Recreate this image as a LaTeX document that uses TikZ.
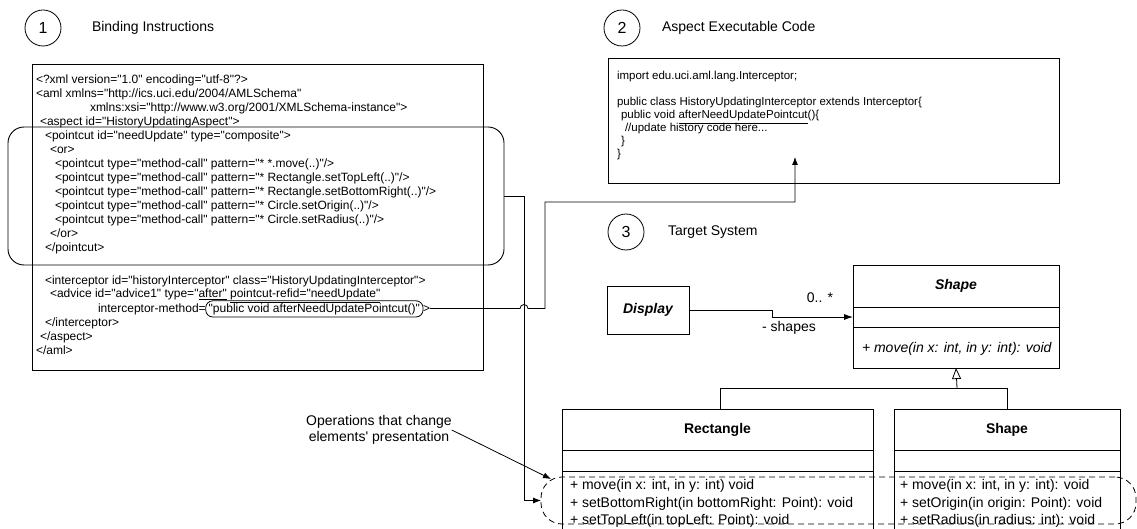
\documentclass[tikz,border=0pt]{standalone}
\usepackage{fontspec}
\setmainfont{Liberation Sans}[Ligatures=TeXOff]
\usetikzlibrary{arrows.meta,calc}
\begin{document}
\begin{tikzpicture}[x=1pt,y=-1pt,
  every node/.style={inner sep=0pt, outer sep=0pt},
  xmlt/.style={anchor=base west, font=\fontsize{12}{14}\selectfont},
  codet/.style={anchor=base west, font=\fontsize{11.5}{13}\selectfont},
  numc/.style={draw, circle, minimum size=36pt, line width=0.8pt, font=\fontsize{16}{18}\selectfont},
  ttl/.style={anchor=west, font=\fontsize{14}{16}\selectfont},
  boxn/.style={draw, line width=0.9pt, anchor=north west},
  lbl/.style={font=\fontsize{14}{16}\selectfont},
  opt/.style={anchor=base west, font=\fontsize{14}{16}\selectfont},
  conn/.style={line width=0.8pt},
  tip/.style={-{Latex[length=8pt,width=6pt]}}
]
\useasboundingbox (0,0) rectangle (1137,529);
\fill[white] (0,0) rectangle (1137,529);
\clip (0,0) rectangle (1137,529);

% ---------- Section 1 ----------
\node[numc] (n1) at (43,28) {1};
\node[ttl] (t1) at (92,28) {Binding Instructions};

\node[boxn, minimum width=451pt, minimum height=306pt] (xmlbox) at (32,64) {};
\node[draw, line width=0.9pt, rounded corners=16pt, minimum width=496pt, minimum height=138pt, anchor=north west] (rr) at (8,127) {};

\node[xmlt] (x1) at (36,84) {<?xml version="1.0" encoding="utf-8"?>};
\node[xmlt] (x2) at (36,98) {<aml xmlns="http://ics.uci.edu/2004/AMLSchema"};
\node[xmlt] (x3) at (90,112) {xmlns:xsi="http://www.w3.org/2001/XMLSchema-instance">};
\node[xmlt] (x4) at (40,126) {<aspect id="HistoryUpdatingAspect">};
\node[xmlt] (x5) at (45,140) {<pointcut id="needUpdate" type="composite">};
\node[xmlt] (x6) at (50,154) {<or>};
\node[xmlt] (x7) at (55,168) {<pointcut type="method-call" pattern="* *.move(..)"/>};
\node[xmlt] (x8) at (55,182) {<pointcut type="method-call" pattern="* Rectangle.setTopLeft(..)"/>};
\node[xmlt] (x9) at (55,196) {<pointcut type="method-call" pattern="* Rectangle.setBottomRight(..)"/>};
\node[xmlt] (x10) at (55,210) {<pointcut type="method-call" pattern="* Circle.setOrigin(..)"/>};
\node[xmlt] (x11) at (55,224) {<pointcut type="method-call" pattern="* Circle.setRadius(..)"/>};
\node[xmlt] (x12) at (50,238) {</or>};
\node[xmlt] (x13) at (45,252) {</pointcut>};
\node[xmlt] (x14) at (45,284) {<interceptor id="historyInterceptor" class="HistoryUpdatingInterceptor">};
\node[xmlt] (x15) at (50,298) {<advice id="advice1" type="\underline{after"} \underline{pointcut-refid="needUpdate"}};
\node[xmlt] (x16) at (98,312) {interceptor-method=};
\node[draw, line width=0.8pt, rounded corners=7pt, inner xsep=3pt, inner ysep=2.5pt, anchor=base west, font=\fontsize{12}{14}\selectfont] (pill) at (x16.base east) {"public void afterNeedUpdatePointcut()"};
\node[xmlt] (gt) at (pill.base east) {>};
\node[xmlt] (x17) at (45,326) {</interceptor>};
\node[xmlt] (x18) at (40,340) {</aspect>};
\node[xmlt] (x19) at (36,354) {</aml>};

% ---------- Section 2 ----------
\node[numc] (n2) at (622,28) {2};
\node[ttl] (t2) at (662,28) {Aspect Executable Code};
\node[boxn, minimum width=451pt, minimum height=125pt] (asp) at (608,58) {};
\node[codet] (c1) at (617,80) {import edu.uci.aml.lang.Interceptor;};
\node[codet] (c2) at (617,106) {public class HistoryUpdatingInterceptor extends Interceptor\{};
\node[codet] (c3) at (621,119) {public void \underline{afterNeedUpdatePointcut}()\{};
\node[codet] (c4) at (625,132) {//update history code here...};
\node[codet] (c5) at (621,145) {\}};
\node[codet] (c6) at (617,158) {\}};

% ---------- Section 3 ----------
\node[numc] (n3) at (626,232) {3};
\node[ttl] (t3) at (668,232) {Target System};

\node[draw, line width=0.9pt, minimum width=82pt, minimum height=48pt, font=\fontsize{14}{16}\selectfont\bfseries\itshape] (disp) at (648,310) {Display};

\node[boxn, minimum width=206pt, minimum height=103pt] (shp) at (853,265) {};
\node[lbl, font=\fontsize{14}{16}\selectfont\bfseries\itshape] (shpn) at ($(shp.north)+(0,21)$) {Shape};
\draw[line width=0.9pt] ($(shp.north west)+(0,42)$) -- ($(shp.north east)+(0,42)$);
\draw[line width=0.9pt] ($(shp.north west)+(0,62)$) -- ($(shp.north east)+(0,62)$);
\node[opt, font=\fontsize{14}{16}\selectfont\itshape] (shpo) at ($(shp.north west)+(9,87)$) {+ move(in x: int, in y: int): void};

\node[boxn, minimum width=311pt, minimum height=140pt] (rect) at (562,409) {};
\node[lbl, font=\fontsize{14}{16}\selectfont\bfseries] (rectn) at ($(rect.north)+(0,21)$) {Rectangle};
\draw[line width=0.9pt] ($(rect.north west)+(0,41)$) -- ($(rect.north east)+(0,41)$);
\draw[line width=0.9pt] ($(rect.north west)+(0,62)$) -- ($(rect.north east)+(0,62)$);
\node[opt] (ro1) at (570,489) {+ move(in x: int, in y: int) void};
\node[opt] (ro2) at (570,507) {+ setBottomRight(in bottomRight: Point): void};
\node[opt] (ro3) at (570,524) {+ setTopLeft(in topLeft: Point): void};

\node[boxn, minimum width=226pt, minimum height=140pt] (circ) at (894,409) {};
\node[lbl, font=\fontsize{14}{16}\selectfont\bfseries] (circn) at ($(circ.north)+(0,21)$) {Shape};
\draw[line width=0.9pt] ($(circ.north west)+(0,41)$) -- ($(circ.north east)+(0,41)$);
\draw[line width=0.9pt] ($(circ.north west)+(0,62)$) -- ($(circ.north east)+(0,62)$);
\node[opt] (co1) at (900,489) {+ move(in x: int, in y: int): void};
\node[opt] (co2) at (900,507) {+ setOrigin(in origin: Point): void};
\node[opt] (co3) at (900,524) {+ setRadius(in radius: int): void};

\node[draw, line width=0.8pt, dash pattern=on 6pt off 4pt, rounded corners=21pt, minimum width=595pt, minimum height=47pt, anchor=north west] (ops) at (541,477) {};

\node[lbl, align=center] (ann) at (379,430) {Operations that change\\elements' presentation};

% ---------- connectors ----------
\coordinate (c1x) at (524,196);
\coordinate (c2a) at (545,202);
\coordinate (c2b) at (795,202);
\coordinate (mtip) at (795,157);
\coordinate (annend) at (551,479);
\coordinate (gj) at (957,388);
\coordinate (rtop) at (720,409);
\coordinate (ctop) at (1007,409);
\coordinate (as1) at (772,310);
\coordinate (as2) at (772,317);

\draw[conn,tip] (rr.east) -- (c1x) -- (c1x |- ops.west) -- (ops.west);
\draw[conn,tip] (gt.east) -- ($(gt.east -| c1x)+(-4,0)$) arc[start angle=180,end angle=360,radius=4] -- (gt.east -| c2a) -- (c2a) -- (c2b) -- (mtip);
\draw[conn,tip] (ann.east) -- (annend);

\draw[conn,-{Latex[length=9pt,width=6pt]}] (disp.east) -- (as1) -- (as2) -- (shp.west |- as2);
\node[lbl] (mult) at (820,298) {0.. *};
\node[lbl] (role) at (789,328) {- shapes};

\draw[conn] (rtop) |- (gj);
\draw[conn] (ctop) |- (gj);
\draw[conn,-{Triangle[open,length=11pt,width=9pt]}] (gj) -- (shp.south);
\end{tikzpicture}
\end{document}
